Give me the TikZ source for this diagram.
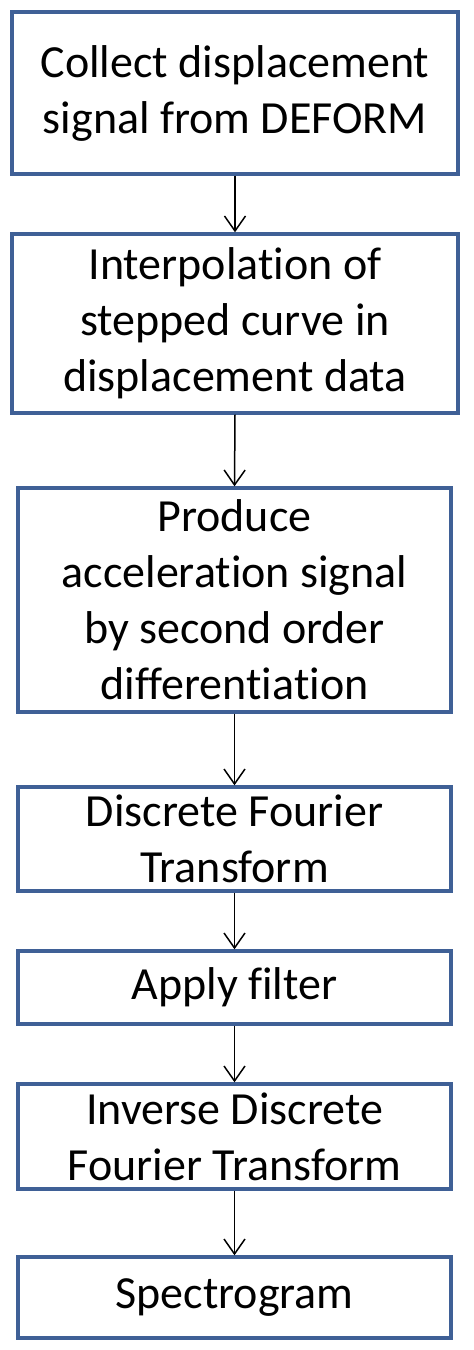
\documentclass[tikz,border=0pt]{standalone}
\usepackage{fontspec}
\setmainfont{Carlito}[Ligatures={NoCommon}]
\usetikzlibrary{arrows.meta}
\definecolor{boxblue}{HTML}{3F6096}
\begin{document}
\begin{tikzpicture}[x=1pt,y=-1pt,
  stepbox/.style={draw=boxblue,line width=3.4pt,fill=white,rectangle,align=center,
    inner sep=0pt,font=\fontsize{46}{56}\selectfont,text=black},
  wide/.style={minimum width=446pt},
  narrow/.style={minimum width=433pt},
  flow/.style={draw=black,line width=1.5pt,-{Straight Barb[length=15pt,width=21pt,line width=1.5pt]}}]
\fill[white] (0,0) rectangle (474,1350);
\useasboundingbox (0,0) rectangle (474,1350);
\node[stepbox,wide,minimum height=162pt] (b1) at (235,93) {Collect displacement\\signal from DEFORM};
\node[stepbox,wide,minimum height=179pt] (b2) at (235,323.5) {Interpolation of\\stepped curve in\\displacement data};
\node[stepbox,narrow,minimum height=224pt] (b3) at (234.5,600) {Produce\\acceleration signal\\by second order\\differentiation};
\node[stepbox,narrow,minimum height=104pt] (b4) at (234.5,839) {Discrete Fourier\\Transform};
\node[stepbox,narrow,minimum height=73pt] (b5) at (234.5,987.5) {Apply filter};
\node[stepbox,narrow,minimum height=105pt] (b6) at (234.5,1136.5) {Inverse Discrete\\Fourier Transform};
\node[stepbox,narrow,minimum height=81pt] (b7) at (234.5,1297.5) {Spectrogram};
\draw[flow] (b1.south) -- (b2.north);
\draw[flow] (b2.south) -- (b3.north);
\draw[flow] (b3.south) -- (b4.north);
\draw[flow] (b4.south) -- (b5.north);
\draw[flow] (b5.south) -- (b6.north);
\draw[flow] (b6.south) -- (b7.north);
\end{tikzpicture}
\end{document}
